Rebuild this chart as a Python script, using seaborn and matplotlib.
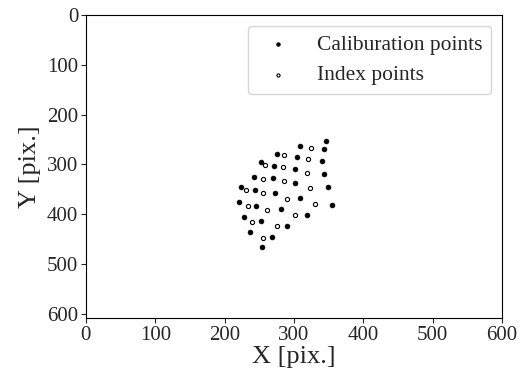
import numpy as np
import pandas as pd
import matplotlib
matplotlib.use("Agg")
import matplotlib.pyplot as plt
import seaborn as sns

# Calibration points (filled)
calib_x = [309, 346, 343, 276, 304, 341, 252, 271, 301, 344,
           242, 270, 302, 223, 349, 244, 272, 309, 221, 355,
           245, 281, 319, 228, 252, 290, 236, 269, 254]
calib_y = [264, 254, 270, 280, 285, 293, 296, 303, 310, 319,
           325, 328, 338, 346, 346, 352, 358, 367, 376, 381,
           383, 390, 401, 406, 414, 425, 437, 446, 467]

# Index points (open)
index_x = [324, 286, 320, 258, 284, 319, 255, 285, 231, 323,
           255, 290, 233, 330, 261, 301, 240, 275, 255]
index_y = [268, 282, 289, 301, 306, 317, 329, 334, 352, 348,
           358, 370, 383, 379, 392, 401, 415, 425, 448]

df_cal = pd.DataFrame({"x": calib_x, "y": calib_y})
df_idx = pd.DataFrame({"x": index_x, "y": index_y})

sns.set_theme(style="ticks")
plt.rcParams["font.family"] = ["Liberation Serif", "DejaVu Serif"]

fig, ax = plt.subplots(figsize=(5.24, 3.79), dpi=100)
fig.subplots_adjust(left=0.164, right=0.958, top=0.96, bottom=0.161)

sns.scatterplot(data=df_cal, x="x", y="y", ax=ax, color="black", s=12,
                edgecolor="black", linewidth=0.5, label="Caliburation points")
sns.scatterplot(data=df_idx, x="x", y="y", ax=ax, facecolor="white", s=9,
                edgecolor="black", linewidth=0.8, label="Index points")

ax.set_xlim(0, 600)
ax.set_ylim(609, 0)
ax.set_xticks([0, 100, 200, 300, 400, 500, 600])
ax.set_yticks([0, 100, 200, 300, 400, 500, 600])
ax.tick_params(labelsize=15, length=3.5, width=0.8, pad=2)
ax.set_xlabel("X [pix.]", fontsize=19, labelpad=1)
ax.set_ylabel("Y [pix.]", fontsize=19, labelpad=4)
for sp in ax.spines.values():
    sp.set_visible(True)
    sp.set_color("black")
    sp.set_linewidth(0.8)

ax.legend(loc="upper right", fontsize=15.5, frameon=True, markerscale=0.75)

plt.savefig("out.png", dpi=100)
